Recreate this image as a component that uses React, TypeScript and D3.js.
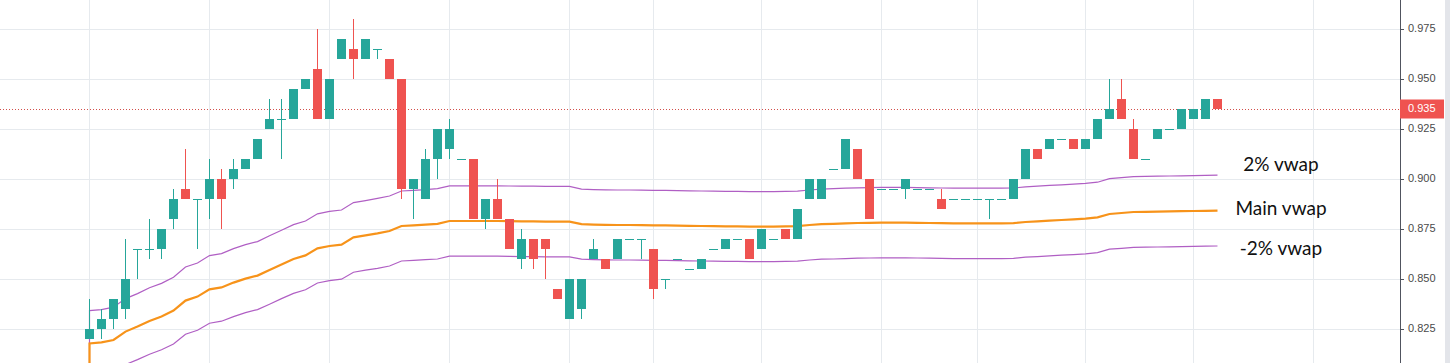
import React from 'react';
import * as d3 from 'd3';

// candles (tick size 0.005)
const opens = [
  0.820, 0.825, 0.830, 0.835, 0.865, 0.865, 0.865, 0.880, 0.895, 0.890,
  0.890, 0.900, 0.900, 0.905, 0.910, 0.925, 0.930, 0.930, 0.945, 0.955,
  0.930, 0.960, 0.965, 0.960, 0.965, 0.960, 0.950, 0.895, 0.890, 0.910,
  0.915, 0.910, 0.910, 0.880, 0.890, 0.880, 0.860, 0.870, 0.870, 0.845,
  0.830, 0.835, 0.860, 0.860, 0.860, 0.870, 0.870, 0.865, 0.850, 0.860,
  0.855, 0.855, 0.865, 0.865, 0.870, 0.870, 0.865, 0.870, 0.875, 0.870,
  0.890, 0.890, 0.905, 0.905, 0.915, 0.900, 0.895, 0.895, 0.895, 0.895,
  0.895, 0.890, 0.890, 0.890, 0.890, 0.890, 0.890, 0.890, 0.900, 0.915,
  0.915, 0.920, 0.920, 0.915, 0.920, 0.930, 0.940, 0.925, 0.910, 0.920,
  0.925, 0.925, 0.930, 0.930, 0.940,
];
const highs = [
  0.840, 0.835, 0.840, 0.870, 0.865, 0.880, 0.875, 0.895, 0.915, 0.890,
  0.910, 0.905, 0.910, 0.910, 0.920, 0.940, 0.940, 0.945, 0.950, 0.975,
  0.950, 0.970, 0.980, 0.970, 0.965, 0.960, 0.950, 0.900, 0.915, 0.925,
  0.930, 0.910, 0.910, 0.890, 0.900, 0.880, 0.875, 0.870, 0.870, 0.845,
  0.850, 0.850, 0.870, 0.860, 0.870, 0.870, 0.870, 0.865, 0.850, 0.860,
  0.855, 0.860, 0.865, 0.870, 0.870, 0.870, 0.875, 0.870, 0.875, 0.885,
  0.900, 0.900, 0.905, 0.920, 0.915, 0.900, 0.895, 0.895, 0.900, 0.895,
  0.895, 0.895, 0.890, 0.890, 0.890, 0.890, 0.890, 0.900, 0.915, 0.915,
  0.920, 0.920, 0.920, 0.920, 0.930, 0.950, 0.950, 0.930, 0.910, 0.925,
  0.925, 0.935, 0.935, 0.940, 0.940,
];
const lows = [
  0.820, 0.820, 0.825, 0.830, 0.850, 0.860, 0.860, 0.875, 0.890, 0.865,
  0.880, 0.875, 0.895, 0.905, 0.910, 0.925, 0.910, 0.930, 0.945, 0.930,
  0.930, 0.960, 0.950, 0.960, 0.960, 0.950, 0.890, 0.880, 0.890, 0.900,
  0.910, 0.910, 0.880, 0.875, 0.880, 0.865, 0.855, 0.855, 0.850, 0.840,
  0.830, 0.830, 0.860, 0.855, 0.860, 0.870, 0.860, 0.840, 0.845, 0.860,
  0.855, 0.855, 0.865, 0.865, 0.870, 0.860, 0.865, 0.870, 0.870, 0.870,
  0.890, 0.890, 0.905, 0.905, 0.900, 0.880, 0.895, 0.895, 0.890, 0.895,
  0.895, 0.885, 0.890, 0.890, 0.890, 0.880, 0.890, 0.890, 0.900, 0.910,
  0.915, 0.920, 0.915, 0.915, 0.920, 0.930, 0.930, 0.910, 0.910, 0.920,
  0.925, 0.925, 0.930, 0.930, 0.935,
];
const closes = [
  0.825, 0.830, 0.840, 0.850, 0.865, 0.865, 0.875, 0.890, 0.890, 0.890,
  0.900, 0.890, 0.905, 0.910, 0.920, 0.930, 0.930, 0.945, 0.950, 0.930,
  0.950, 0.970, 0.960, 0.970, 0.965, 0.950, 0.895, 0.900, 0.910, 0.925,
  0.925, 0.910, 0.880, 0.890, 0.880, 0.865, 0.870, 0.860, 0.865, 0.840,
  0.850, 0.850, 0.865, 0.855, 0.870, 0.870, 0.870, 0.845, 0.850, 0.860,
  0.855, 0.860, 0.865, 0.870, 0.870, 0.860, 0.875, 0.870, 0.870, 0.885,
  0.900, 0.900, 0.905, 0.920, 0.900, 0.880, 0.895, 0.895, 0.900, 0.895,
  0.895, 0.885, 0.890, 0.890, 0.890, 0.890, 0.890, 0.900, 0.915, 0.910,
  0.920, 0.920, 0.915, 0.920, 0.930, 0.935, 0.930, 0.910, 0.910, 0.925,
  0.925, 0.935, 0.935, 0.940, 0.935,
];

const vwapMain = [
  0.8178, 0.8183, 0.8195, 0.8237, 0.8262, 0.8290, 0.8312, 0.8342, 0.8392, 0.8412,
  0.8448, 0.8458, 0.8482, 0.8502, 0.8517, 0.8545, 0.8573, 0.8600, 0.8618, 0.8653,
  0.8665, 0.8672, 0.8708, 0.8718, 0.8728, 0.8740, 0.8765, 0.8768, 0.8772, 0.8776,
  0.8790, 0.8790, 0.8790, 0.8790, 0.8790, 0.8789, 0.8788, 0.8788, 0.8787, 0.8787,
  0.8787, 0.8774, 0.8772, 0.8771, 0.8770, 0.8770, 0.8769, 0.8768, 0.8768, 0.8767,
  0.8766, 0.8765, 0.8764, 0.8763, 0.8763, 0.8762, 0.8762, 0.8762, 0.8763, 0.8764,
  0.8770, 0.8774, 0.8776, 0.8778, 0.8780, 0.8781, 0.8782, 0.8782, 0.8782, 0.8781,
  0.8780, 0.8779, 0.8778, 0.8778, 0.8778, 0.8778, 0.8778, 0.8779, 0.8785, 0.8788,
  0.8792, 0.8795, 0.8798, 0.8802, 0.8808, 0.8825, 0.8830, 0.8835, 0.8836, 0.8837,
  0.8838, 0.8839, 0.8840, 0.8841, 0.8842,
];
const vwapUpper = [
  0.8342, 0.8347, 0.8359, 0.8402, 0.8427, 0.8456, 0.8478, 0.8509, 0.8560, 0.8580,
  0.8617, 0.8627, 0.8652, 0.8672, 0.8687, 0.8716, 0.8744, 0.8772, 0.8790, 0.8826,
  0.8838, 0.8845, 0.8882, 0.8892, 0.8903, 0.8915, 0.8940, 0.8943, 0.8947, 0.8952,
  0.8966, 0.8966, 0.8966, 0.8966, 0.8966, 0.8965, 0.8964, 0.8964, 0.8963, 0.8963,
  0.8963, 0.8949, 0.8947, 0.8946, 0.8945, 0.8945, 0.8944, 0.8943, 0.8943, 0.8942,
  0.8941, 0.8940, 0.8939, 0.8938, 0.8938, 0.8937, 0.8937, 0.8937, 0.8938, 0.8939,
  0.8945, 0.8949, 0.8952, 0.8954, 0.8956, 0.8957, 0.8958, 0.8958, 0.8958, 0.8957,
  0.8956, 0.8955, 0.8954, 0.8954, 0.8954, 0.8954, 0.8954, 0.8955, 0.8961, 0.8964,
  0.8968, 0.8971, 0.8974, 0.8978, 0.8984, 0.9002, 0.9007, 0.9012, 0.9013, 0.9014,
  0.9015, 0.9016, 0.9017, 0.9018, 0.9019,
];
const vwapLower = [
  0.8014, 0.8019, 0.8031, 0.8072, 0.8097, 0.8124, 0.8146, 0.8175, 0.8224, 0.8244,
  0.8279, 0.8289, 0.8312, 0.8332, 0.8347, 0.8374, 0.8402, 0.8428, 0.8446, 0.8480,
  0.8492, 0.8499, 0.8534, 0.8544, 0.8553, 0.8565, 0.8590, 0.8593, 0.8597, 0.8600,
  0.8614, 0.8614, 0.8614, 0.8614, 0.8614, 0.8613, 0.8612, 0.8612, 0.8611, 0.8611,
  0.8611, 0.8599, 0.8597, 0.8596, 0.8595, 0.8595, 0.8594, 0.8593, 0.8593, 0.8592,
  0.8591, 0.8590, 0.8589, 0.8588, 0.8588, 0.8587, 0.8587, 0.8587, 0.8588, 0.8589,
  0.8595, 0.8599, 0.8600, 0.8602, 0.8604, 0.8605, 0.8606, 0.8606, 0.8606, 0.8605,
  0.8604, 0.8603, 0.8602, 0.8602, 0.8602, 0.8602, 0.8602, 0.8603, 0.8609, 0.8612,
  0.8616, 0.8619, 0.8622, 0.8626, 0.8632, 0.8649, 0.8653, 0.8658, 0.8659, 0.8660,
  0.8661, 0.8662, 0.8663, 0.8664, 0.8665,
];
// the vwap lines come up from below the visible range on the first bar
const vwapSeed = 0.79;

const priceTicks = [0.825, 0.85, 0.875, 0.9, 0.925, 0.95, 0.975];
// bar indexes where the time grid lines fall
const timeGrid = [0, 10, 20, 30, 40, 47, 56, 66, 74, 83, 92, 102];
const lastPrice = 0.935;
const labels = [
  { text: '2% vwap', value: 0.9065 },
  { text: 'Main vwap', value: 0.8845 },
  { text: '-2% vwap', value: 0.8645 },
];

const W = 1450;
const H = 363;
const axisX = 1400;
const up = '#26a69a';
const down = '#ef5350';

export default function App() {
  const x = d3.scaleLinear().domain([0, 94]).range([89.5, 1217.5]);
  const y = d3.scaleLinear().domain([0.825, 0.975]).range([329, 29]);
  const bw = 9;

  const line = d3.line<[number, number]>()
    .x(d => x(d[0]))
    .y(d => y(d[1]));
  const path = (vals: number[]) =>
    line([[0, vwapSeed] as [number, number], ...vals.map((v, i) => [i, v] as [number, number])]) || '';

  return (
    <svg width={W} height={H} style={{ position: 'absolute', left: 0, top: 0, background: '#fff' }}>
      <defs>
        <clipPath id="plot">
          <rect x={0} y={0} width={axisX} height={H} />
        </clipPath>
      </defs>

      {/* grid */}
      {priceTicks.map(t => (
        <line key={'h' + t} x1={0} x2={axisX} y1={Math.round(y(t)) + 0.5} y2={Math.round(y(t)) + 0.5} stroke="#e6eaee" />
      ))}
      {timeGrid.map(i => (
        <line key={'v' + i} x1={Math.floor(x(i)) + 0.5} x2={Math.floor(x(i)) + 0.5} y1={0} y2={H} stroke="#e6eaee" />
      ))}

      <g clipPath="url(#plot)">
        {/* last price line */}
        <line x1={0} x2={axisX} y1={Math.round(y(lastPrice)) + 0.5} y2={Math.round(y(lastPrice)) + 0.5}
          stroke="#d2504c" strokeWidth={1} strokeDasharray="1 2" />

        {/* vwap lines */}
        <path d={path(vwapUpper)} fill="none" stroke="#b05fc4" strokeWidth={1.2} />
        <path d={path(vwapLower)} fill="none" stroke="#b05fc4" strokeWidth={1.2} />
        <path d={path(vwapMain)} fill="none" stroke="#f7931a" strokeWidth={2.2} />

        {/* candles */}
        {opens.map((o, i) => {
          const c = closes[i];
          const col = c >= o ? up : down;
          const cx = x(i);
          const top = y(Math.max(o, c));
          const bot = y(Math.min(o, c));
          return (
            <g key={i}>
              <rect x={cx - 0.5} y={y(highs[i])} width={1} height={Math.max(0, y(lows[i]) - y(highs[i]))} fill={col} />
              <rect x={cx - bw / 2} y={top} width={bw} height={Math.max(1, bot - top)} fill={col} />
            </g>
          );
        })}
      </g>

      {/* legend text */}
      {labels.map(l => (
        <text key={l.text} x={1281} y={y(l.value)} textAnchor="middle" dominantBaseline="middle"
          fontFamily="Lato, 'Open Sans', sans-serif" fontSize={19} fill="#111">{l.text}</text>
      ))}

      {/* price axis */}
      <line x1={axisX + 0.5} x2={axisX + 0.5} y1={0} y2={H} stroke="#50535e" />
      {priceTicks.map(t => (
        <g key={'t' + t}>
          <line x1={axisX} x2={axisX + 4} y1={Math.round(y(t)) + 0.5} y2={Math.round(y(t)) + 0.5} stroke="#50535e" />
          <text x={axisX + 8} y={y(t)} dominantBaseline="middle" fontFamily="'Liberation Sans', Arial, sans-serif"
            fontSize={11} fill="#4a4a4a">{d3.format('.3f')(t)}</text>
        </g>
      ))}
      <rect x={axisX} y={y(lastPrice) - 9.5} width={44} height={19} fill={down} />
      <text x={axisX + 8} y={y(lastPrice)} dominantBaseline="middle" fontFamily="'Liberation Sans', Arial, sans-serif"
        fontSize={11} fill="#fff">{d3.format('.3f')(lastPrice)}</text>

      {/* scrollbar edge */}
      <rect x={1445} y={0} width={5} height={H} fill="#e3e5ea" />
    </svg>
  );
}
